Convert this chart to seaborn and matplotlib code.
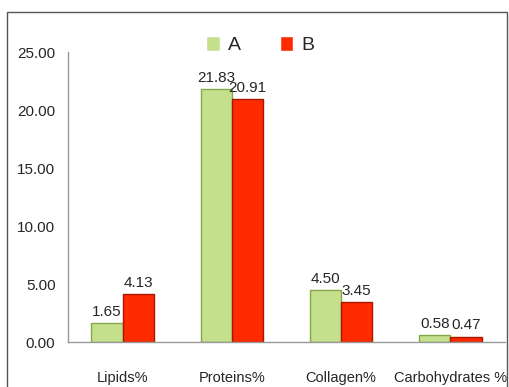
import matplotlib.pyplot as plt
import seaborn as sns
import pandas as pd
from matplotlib.patches import Rectangle

categories = ['Lipids%', 'Proteins%', 'Collagen%', 'Carbohydrates %']
a_vals = [1.65, 21.83, 4.50, 0.58]
b_vals = [4.13, 20.91, 3.45, 0.47]

df = pd.DataFrame({
    'cat': categories * 2,
    'val': a_vals + b_vals,
    'grp': ['A'] * 4 + ['B'] * 4,
})

sns.set_style('white')
plt.rcParams['font.family'] = ['Liberation Sans Narrow', 'Liberation Sans', 'DejaVu Sans']

fig = plt.figure(figsize=(5.09, 3.87), dpi=100)
ax = fig.add_axes([68 / 509, 1 - 342 / 387, 437 / 509, 290 / 387])

pal = {'A': '#c4e08c', 'B': '#ff2a00'}
sns.barplot(data=df, x='cat', y='val', hue='grp', palette=pal, ax=ax,
            width=0.57, saturation=1, legend=True)
edges = {'A': '#86a84a', 'B': '#a81800'}
for cont, g in zip(ax.containers, ['A', 'B']):
    for p in cont:
        p.set_edgecolor(edges[g])
        p.set_linewidth(1)
    ax.bar_label(cont, fmt='%.2f', padding=3, fontsize=11)

ax.set_ylim(0, 25)
ax.set_xlim(-0.5, 3.5)
ax.set_yticks([0, 5, 10, 15, 20, 25])
ax.set_yticklabels(['%.2f' % v for v in [0, 5, 10, 15, 20, 25]], fontsize=11)
ax.set_xticks([-0.5, 0.5, 1.5, 2.5, 3.5])
ax.set_xticklabels([])
ax.set_xticks([0, 1, 2, 3], minor=True)
ax.set_xticklabels(categories, minor=True, fontsize=10.5)
ax.tick_params(axis='x', which='major', length=7, color='#999999', direction='out')
ax.tick_params(axis='x', which='minor', length=0, pad=21)
ax.tick_params(axis='y', length=5, color='#999999', direction='out', pad=4)
ax.set_xlabel('')
ax.set_ylabel('')
for s in ['top', 'right']:
    ax.spines[s].set_visible(False)
for s in ['left', 'bottom']:
    ax.spines[s].set_color('#999999')
    ax.spines[s].set_linewidth(1)

leg = ax.legend(loc='upper center', bbox_to_anchor=(0.44, 1.115), ncol=2, frameon=False,
                fontsize=14, handlelength=0.7, handleheight=0.8, columnspacing=2.0,
                handletextpad=0.4)

fig.patches.append(Rectangle((7 / 509, -0.01), 500 / 509, 1 - 12 / 387 + 0.01,
                             transform=fig.transFigure, fill=False,
                             edgecolor='#555555', linewidth=1))

fig.savefig('out.png', dpi=100)
